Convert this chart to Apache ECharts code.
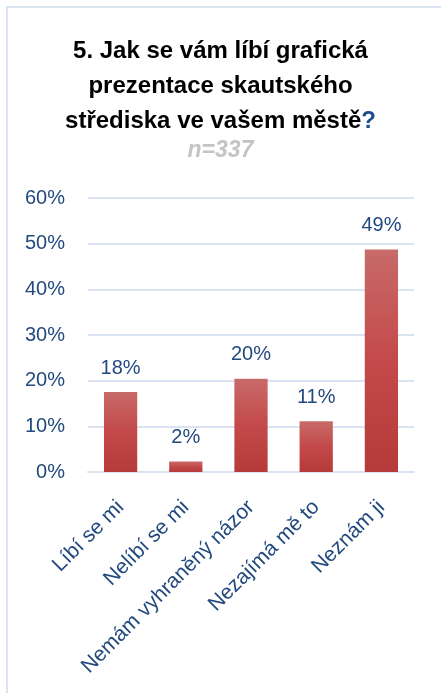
<!DOCTYPE html>
<html>
<head>
<meta charset="utf-8">
<script src="https://cdn.jsdelivr.net/npm/echarts@6/dist/echarts.min.js"></script>
<style>
  html, body { margin: 0; padding: 0; background: #fff; }
  #frame { position: absolute; left: 6px; top: 6px; width: 435px; height: 687px;
           border-left: 2px solid #dbe5f2; border-top: 2px solid #dbe5f2; }
  #chart { position: absolute; left: 0; top: 0; width: 441px; height: 693px; }
</style>
</head>
<body>
<div id="frame"></div>
<div id="chart"></div>
<script>
// Survey question 5: opinion of the scout centre's graphic presentation (n = 337)
const categories = ['Líbí se mi', 'Nelíbí se mi', 'Nemám vyhraněný názor', 'Nezajímá mě to', 'Neznám ji'];
const shares = [17.5, 2.3, 20.4, 11.1, 48.7];
const yTicks = [0, 10, 20, 30, 40, 50, 60];

const blue = '#234a7e';
const font = 'Liberation Sans, Arial, sans-serif';

const chart = echarts.init(document.getElementById('chart'), null, { renderer: 'canvas' });
chart.setOption({
  animation: false,
  backgroundColor: 'transparent',
  title: [{
    text: '5. Jak se vám líbí grafická\nprezentace skautského\nstřediska ve vašem městě{q|?}',
    left: 'center',
    top: 29,
    textStyle: {
      fontFamily: font, fontWeight: 'bold', fontSize: 24, color: '#000', lineHeight: 35,
      rich: { q: { fontFamily: font, fontWeight: 'bold', fontSize: 24, color: '#1f4e8c', lineHeight: 35 } }
    }
  }, {
    text: 'n=337',
    left: 'center',
    top: 134,
    textStyle: { fontFamily: font, fontWeight: 'bold', fontStyle: 'italic', fontSize: 23, color: '#c4c4c4' }
  }],
  grid: { left: 88, right: 27, top: 198, bottom: 221, containLabel: false },
  xAxis: {
    type: 'category',
    data: categories,
    axisLine: { show: true, lineStyle: { color: '#d9e3f1', width: 2 } },
    axisTick: { show: false },
    axisLabel: {
      interval: 0, rotate: 45, margin: 32,
      fontFamily: font, fontSize: 21, color: blue
    }
  },
  yAxis: {
    type: 'value',
    min: 0, max: 60, interval: 10,
    axisLine: { show: false },
    axisTick: { show: false },
    splitLine: { lineStyle: { color: '#d9e3f1', width: 2 } },
    axisLabel: {
      margin: 23, fontFamily: font, fontSize: 20, color: blue,
      formatter: v => (yTicks.includes(v) ? v + '%' : '')
    }
  },
  series: [{
    type: 'bar',
    data: shares,
    barWidth: '51%',
    itemStyle: {
      color: new echarts.graphic.LinearGradient(0, 0, 0, 1, [
        { offset: 0, color: '#c76b69' },
        { offset: 0.5, color: '#c4494a' },
        { offset: 1, color: '#b53a39' }
      ])
    },
    label: {
      show: true, position: 'top', distance: 14,
      fontFamily: font, fontSize: 20, color: blue,
      formatter: p => Math.round(p.value) + '%'
    }
  }]
});
</script>
</body>
</html>
